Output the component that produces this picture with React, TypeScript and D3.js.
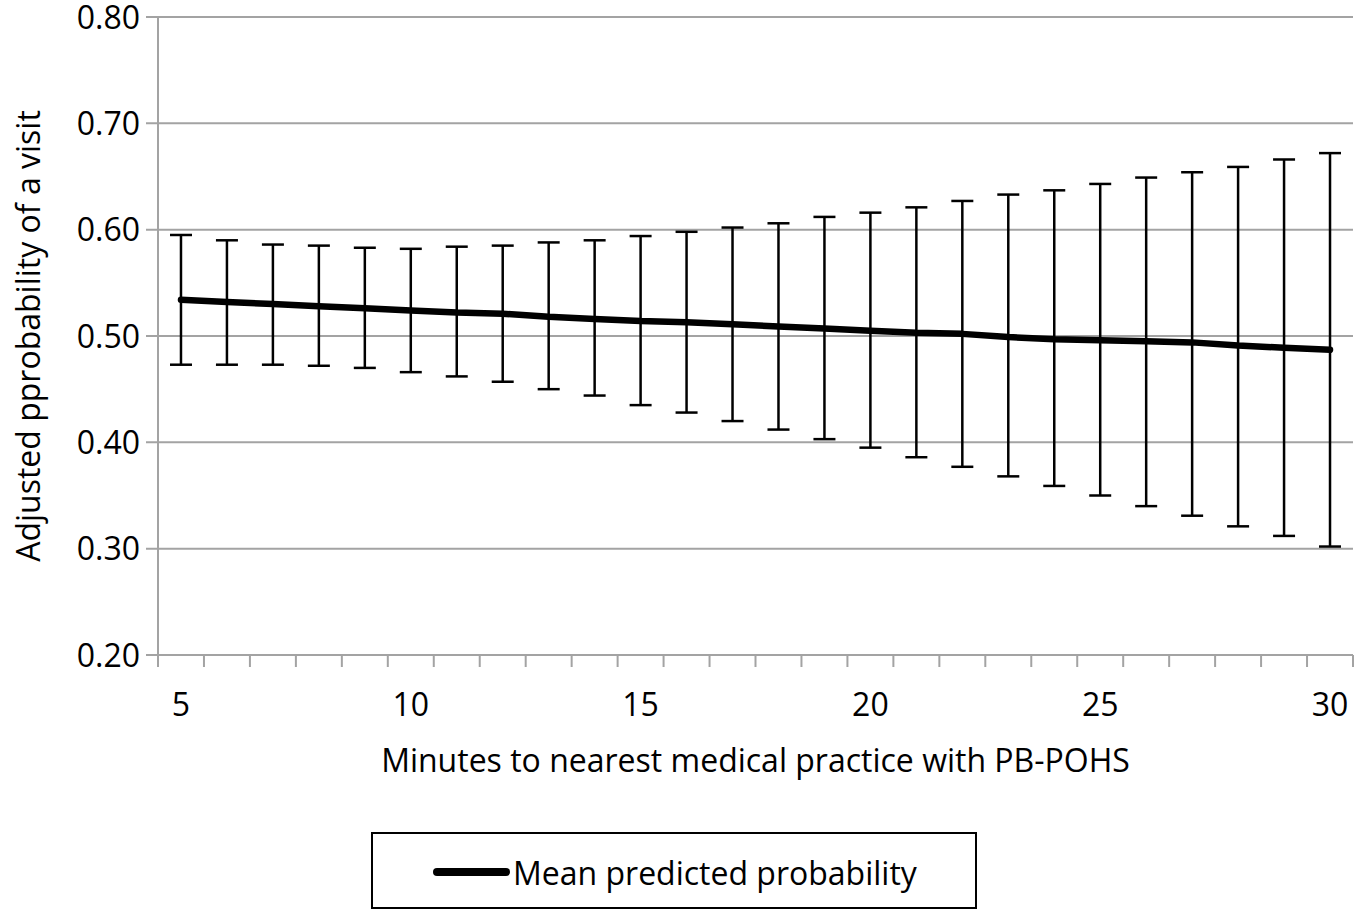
import { useEffect, useRef } from 'react'
import * as d3 from 'd3'

// minutes to nearest practice (x categories)
const minutes = [5, 6, 7, 8, 9, 10, 11, 12, 13, 14, 15, 16, 17, 18, 19, 20, 21, 22, 23, 24, 25, 26, 27, 28, 29, 30]
const meanProb = [0.534, 0.532, 0.530, 0.528, 0.526, 0.524, 0.522, 0.521, 0.518, 0.516, 0.514, 0.513, 0.511, 0.509, 0.507, 0.505, 0.503, 0.502, 0.499, 0.497, 0.496, 0.495, 0.494, 0.491, 0.489, 0.487]
const upperCI = [0.595, 0.590, 0.586, 0.585, 0.583, 0.582, 0.584, 0.585, 0.588, 0.590, 0.594, 0.598, 0.602, 0.606, 0.612, 0.616, 0.621, 0.627, 0.633, 0.637, 0.643, 0.649, 0.654, 0.659, 0.666, 0.672]
const lowerCI = [0.473, 0.473, 0.473, 0.472, 0.470, 0.466, 0.462, 0.457, 0.450, 0.444, 0.435, 0.428, 0.420, 0.412, 0.403, 0.395, 0.386, 0.377, 0.368, 0.359, 0.350, 0.340, 0.331, 0.321, 0.312, 0.302]
const yTicks = [0.2, 0.3, 0.4, 0.5, 0.6, 0.7, 0.8]
const xLabelled = [5, 10, 15, 20, 25, 30]

const App = () => {
  const chartRef = useRef<SVGSVGElement>(null)

  useEffect(() => {
    const width = 1367
    const height = 910
    const left = 158, right = 1353, top = 17, bottom = 655
    const font = "'Open Sans', sans-serif"
    const fs = '32px'
    const grey = '#a3a3a3'

    const svg = d3.select(chartRef.current)
    svg.selectAll('*').remove()
    svg.attr('width', width).attr('height', height)

    const x = d3.scaleBand<number>().domain(minutes).range([left, right]).padding(0)
    const cx = (m: number) => (x(m) as number) + x.bandwidth() / 2
    const y = d3.scaleLinear().domain([0.2, 0.8]).range([bottom, top])

    // gridlines + y ticks
    svg.append('g')
      .selectAll('line')
      .data(yTicks)
      .enter()
      .append('line')
      .attr('x1', left - 12)
      .attr('x2', right)
      .attr('y1', d => y(d))
      .attr('y2', d => y(d))
      .attr('stroke', grey)
      .attr('stroke-width', 2)

    svg.append('g')
      .selectAll('text')
      .data(yTicks)
      .enter()
      .append('text')
      .attr('x', 140)
      .attr('y', d => y(d) + 11.5)
      .attr('text-anchor', 'end')
      .style('font-family', font)
      .style('font-size', fs)
      .text(d => d.toFixed(2))

    // y axis line
    svg.append('line')
      .attr('x1', left).attr('x2', left)
      .attr('y1', top).attr('y2', bottom)
      .attr('stroke', grey).attr('stroke-width', 2)

    // x axis ticks at category boundaries
    const bounds = minutes.map(m => x(m) as number).concat([right])
    svg.append('g')
      .selectAll('line')
      .data(bounds)
      .enter()
      .append('line')
      .attr('x1', d => d).attr('x2', d => d)
      .attr('y1', bottom).attr('y2', bottom + 12)
      .attr('stroke', grey).attr('stroke-width', 2)

    svg.append('g')
      .selectAll('text')
      .data(xLabelled)
      .enter()
      .append('text')
      .attr('x', d => cx(d))
      .attr('y', 716)
      .attr('text-anchor', 'middle')
      .style('font-family', font)
      .style('font-size', fs)
      .text(d => d)

    // error bars
    const bars = svg.append('g').attr('stroke', '#000').attr('stroke-width', 2.5)
    minutes.forEach((m, i) => {
      const px = cx(m)
      bars.append('line').attr('x1', px).attr('x2', px).attr('y1', y(upperCI[i])).attr('y2', y(lowerCI[i]))
      bars.append('line').attr('x1', px - 11).attr('x2', px + 11).attr('y1', y(upperCI[i])).attr('y2', y(upperCI[i]))
      bars.append('line').attr('x1', px - 11).attr('x2', px + 11).attr('y1', y(lowerCI[i])).attr('y2', y(lowerCI[i]))
    })

    // mean line
    const line = d3.line<number>()
      .x((_, i) => cx(minutes[i]))
      .y(d => y(d))
    svg.append('path')
      .datum(meanProb)
      .attr('d', line)
      .attr('fill', 'none')
      .attr('stroke', '#000')
      .attr('stroke-width', 6.5)
      .attr('stroke-linejoin', 'round')
      .attr('stroke-linecap', 'round')

    // axis titles
    svg.append('text')
      .attr('x', (left + right) / 2)
      .attr('y', 772)
      .attr('text-anchor', 'middle')
      .style('font-family', font)
      .style('font-size', fs)
      .text('Minutes to nearest medical practice with PB-POHS')

    svg.append('text')
      .attr('transform', `translate(40, ${(top + bottom) / 2}) rotate(-90)`)
      .attr('text-anchor', 'middle')
      .style('font-family', font)
      .style('font-size', fs)
      .text('Adjusted pprobability of a visit')

    // legend
    svg.append('rect')
      .attr('x', 372).attr('y', 833)
      .attr('width', 604).attr('height', 75)
      .attr('fill', 'none').attr('stroke', '#000').attr('stroke-width', 2)
    svg.append('line')
      .attr('x1', 437).attr('x2', 506)
      .attr('y1', 872).attr('y2', 872)
      .attr('stroke', '#000').attr('stroke-width', 8).attr('stroke-linecap', 'round')
    svg.append('text')
      .attr('x', 513).attr('y', 885)
      .style('font-family', font)
      .style('font-size', fs)
      .text('Mean predicted probability')
  }, [])

  return (
    <div style={{ position: 'absolute', left: 0, top: 0 }}>
      <svg ref={chartRef} style={{ display: 'block' }}></svg>
    </div>
  )
}

export default App
